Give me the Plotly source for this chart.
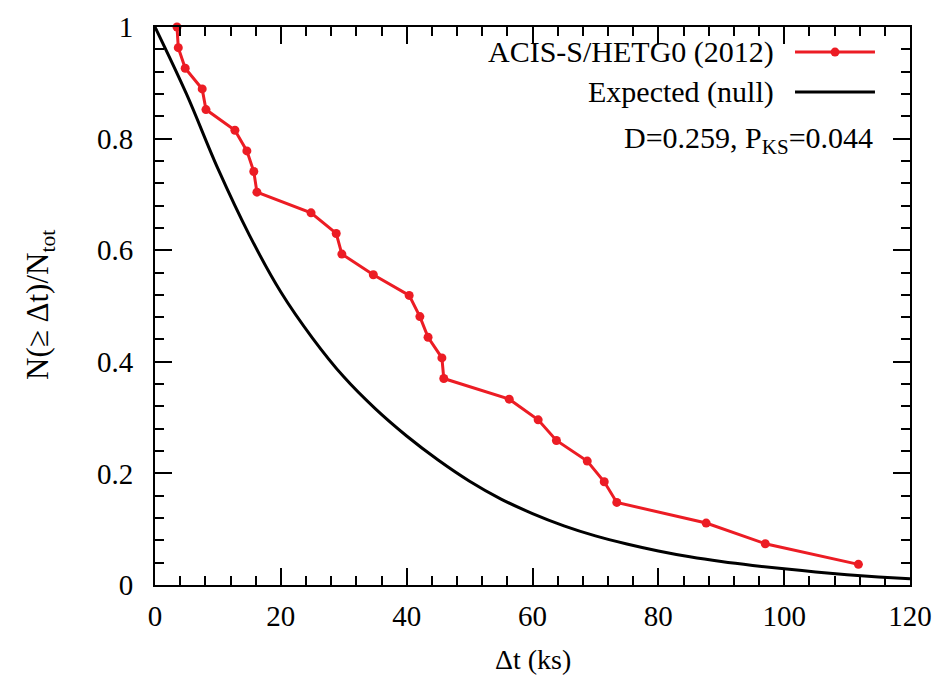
import plotly.graph_objects as go

# Observed cumulative distribution (ACIS-S/HETG0 2012)
obs_dt = [3.5, 3.7, 4.8, 7.5, 8.1, 12.7, 14.6, 15.7, 16.2, 24.8, 28.8, 29.7, 34.7,
          40.4, 42.1, 43.4, 45.6, 45.9, 56.3, 60.9, 63.8, 68.7, 71.4, 73.4, 87.6,
          97.0, 111.8]
obs_frac = [1.000, 0.963, 0.926, 0.889, 0.852, 0.815, 0.778, 0.741, 0.704, 0.667,
            0.630, 0.593, 0.556, 0.519, 0.481, 0.444, 0.407, 0.370, 0.333, 0.296,
            0.259, 0.222, 0.185, 0.148, 0.111, 0.074, 0.037]

# Expected (null) curve
exp_dt = [0, 5, 10, 15, 20, 25, 30, 35, 40, 45, 50, 55, 60, 65, 70, 75, 80, 85,
          90, 95, 100, 105, 110, 115, 120]
exp_frac = [1.0, 0.880, 0.746, 0.627, 0.525, 0.443, 0.373, 0.316, 0.267, 0.224,
            0.186, 0.154, 0.128, 0.106, 0.088, 0.0735, 0.061, 0.0505, 0.042, 0.035,
            0.029, 0.0235, 0.0185, 0.0145, 0.011]

x_ticks = [0, 20, 40, 60, 80, 100, 120]
y_ticks = [0, 0.2, 0.4, 0.6, 0.8, 1]

RED = "#ec1c24"
FONT = "Liberation Serif"

fig = go.Figure()
fig.add_trace(go.Scatter(x=exp_dt, y=exp_frac, mode="lines",
                         line=dict(color="black", width=3, shape="spline", smoothing=1.0),
                         showlegend=False))
fig.add_trace(go.Scatter(x=obs_dt, y=obs_frac, mode="lines+markers",
                         line=dict(color=RED, width=3),
                         marker=dict(color=RED, size=9),
                         cliponaxis=False, showlegend=False))

axis_common = dict(showline=True, linecolor="black", linewidth=2, mirror="allticks",
                   ticks="inside", ticklen=17, tickwidth=2, tickcolor="black",
                   showgrid=False, zeroline=False, automargin=False,
                   tickfont=dict(family=FONT, size=29, color="black"))

fig.update_xaxes(range=[0, 120], tickvals=x_ticks, **axis_common,
                 minor=dict(dtick=4, ticks="inside", ticklen=9, tickwidth=2,
                            tickcolor="black", showgrid=False),
                 ticklabelstandoff=4)
fig.update_yaxes(range=[0, 1], tickvals=y_ticks, **axis_common,
                 minor=dict(dtick=0.04, ticks="inside", ticklen=9, tickwidth=2,
                            tickcolor="black", showgrid=False),
                 ticklabelstandoff=14)

# axis titles
fig.add_annotation(xref="paper", yref="paper", x=0.5, y=-0.1344, text="Δt (ks)",
                   showarrow=False, xanchor="center", yanchor="middle",
                   font=dict(family=FONT, size=28, color="black"))
fig.add_annotation(xref="paper", yref="paper", x=-0.1523, y=0.502,
                   text="N(≥ Δt)/N<sub>tot</sub>", textangle=-90,
                   showarrow=False, xanchor="center", yanchor="middle",
                   font=dict(family=FONT, size=31, color="black"))

# manual legend (text on left, sample on right)
x0s, x1s, xd = 0.8477, 0.9536, 0.9007
rows = [(0.955, "ACIS-S/HETG0 (2012)", RED, True),
        (0.8835, "Expected (null)", "black", False)]
for yy, txt, col, dot in rows:
    fig.add_annotation(xref="paper", yref="paper", x=0.822, y=yy, text=txt,
                       showarrow=False, xanchor="right", yanchor="middle",
                       font=dict(family=FONT, size=30, color="black"))
    fig.add_shape(type="line", xref="paper", yref="paper", x0=x0s, x1=x1s,
                  y0=yy, y1=yy, line=dict(color=col, width=3))
    if dot:
        fig.add_shape(type="circle", xref="paper", yref="paper",
                      xsizemode="pixel", ysizemode="pixel",
                      xanchor=xd, yanchor=yy, x0=-4.5, x1=4.5, y0=-4.5, y1=4.5,
                      fillcolor=col, line=dict(color=col, width=0))
fig.add_annotation(xref="paper", yref="paper", x=0.953, y=0.797,
                   text="D=0.259, P<sub>KS</sub>=0.044", showarrow=False,
                   xanchor="right", yanchor="middle",
                   font=dict(family=FONT, size=30, color="black"))

fig.update_layout(width=943, height=676, margin=dict(l=155, r=33, t=27, b=91),
                  plot_bgcolor="white", paper_bgcolor="white",
                  font=dict(family=FONT, color="black"))

fig.write_html("out.html")
